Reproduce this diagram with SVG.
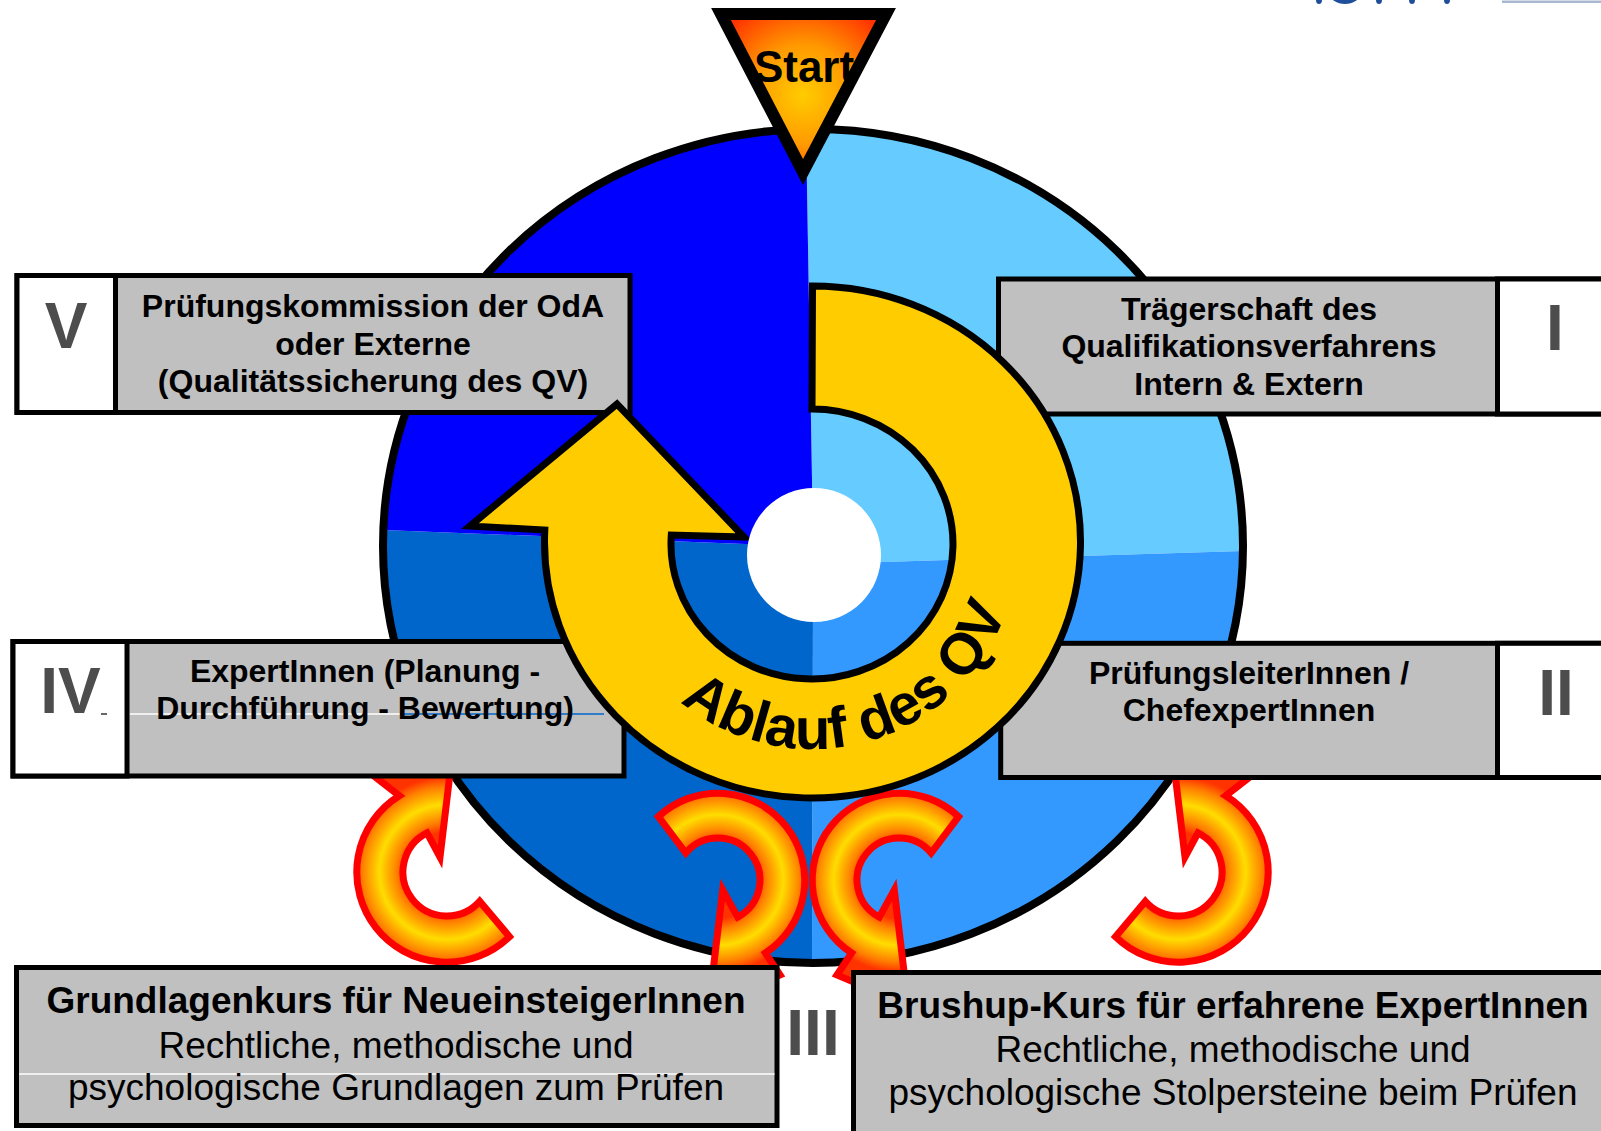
<svg xmlns="http://www.w3.org/2000/svg" width="1601" height="1131" viewBox="0 0 1601 1131">
<style>
.box{fill:#C0C0C0;stroke:#000;stroke-width:5}
.cell{fill:#FFFFFF;stroke:#000;stroke-width:5}
.t{font-family:"Liberation Sans",Arial,sans-serif;font-weight:bold;font-size:32px;fill:#000;text-anchor:middle}
.tb{font-family:"Liberation Sans",Arial,sans-serif;font-weight:bold;font-size:37px;fill:#000;text-anchor:middle}
.tr{font-family:"Liberation Sans",Arial,sans-serif;font-size:37px;fill:#000;text-anchor:middle}
.num{font-family:"Liberation Sans",Arial,sans-serif;font-weight:bold;font-size:64px;fill:#4D4D4D;text-anchor:middle}
.arr{stroke:#FF0000;stroke-width:7;stroke-linejoin:miter}
.pieq{stroke:none}
</style>
<defs>
<radialGradient id="gStart" cx="803" cy="95" r="100" gradientUnits="userSpaceOnUse">
<stop offset="0" stop-color="#FFCC00"/><stop offset="0.5" stop-color="#FF9900"/><stop offset="1" stop-color="#FF3300"/>
</radialGradient>
<radialGradient id="gArr">
<stop offset="0.42" stop-color="#FF3300"/><stop offset="0.53" stop-color="#FF8000"/><stop offset="0.71" stop-color="#FFDD00"/><stop offset="0.89" stop-color="#FF8000"/><stop offset="1" stop-color="#FF3300"/>
</radialGradient>
<radialGradient id="gA" href="#gArr" cx="447" cy="872" r="95" gradientUnits="userSpaceOnUse"/>
<radialGradient id="gD" href="#gArr" cx="1178" cy="872" r="95" gradientUnits="userSpaceOnUse"/>
<radialGradient id="gB" href="#gArr" cx="718" cy="880" r="92" gradientUnits="userSpaceOnUse"/>
<radialGradient id="gC" href="#gArr" cx="899" cy="880" r="92" gradientUnits="userSpaceOnUse"/>
</defs>

<g id="logo-fragment">
<ellipse cx="1319" cy="0" rx="3" ry="4" fill="#1F4E9A"/>
<ellipse cx="1345" cy="-6" rx="15" ry="10" fill="#1F4E9A"/>
<ellipse cx="1379" cy="0" rx="3" ry="4" fill="#1F4E9A"/>
<ellipse cx="1412" cy="0" rx="3" ry="4" fill="#1F4E9A"/>
<ellipse cx="1447" cy="0" rx="3" ry="4" fill="#1F4E9A"/>
<rect x="1502" y="0.5" width="99" height="2.5" fill="#A8B8D0"/>
</g>

<g id="pie">
<path class="pieq" fill="#66CCFF" d="M812 552 L812 480 L806 129 A430 417 0 0 1 1243 551 L860 562.7 Z"/>
<path class="pieq" fill="#3399FF" d="M812 552 L860 562.7 L1243 551 A430 417 0 0 1 812 963 L813 600 Z"/>
<path class="pieq" fill="#0066CC" d="M812 552 L813 600 L812 963 A430 417 0 0 1 383 530 L770 545 Z"/>
<path class="pieq" fill="#0000FF" d="M812 552 L770 545 L383 530 A430 417 0 0 1 806 129 L812 480 Z"/>
<ellipse cx="813" cy="546" rx="430" ry="417" fill="none" stroke="#000" stroke-width="8"/>
</g>

<g id="connectors">
<path id="arrow-left" class="arr" fill="url(#gA)" d="M509.5 936.7 A90 90 0 1 1 399.3 795.7 L365 769 L454 740 L440 857 L427 832.8 A44 44 0 1 0 479.7 901.4 Z"/>
<path id="arrow-right" class="arr" fill="url(#gD)" d="M1115.5 936.7 A90 90 0 1 0 1225.7 795.7 L1260 769 L1171 740 L1185 857 L1198 832.8 A44 44 0 1 1 1145.3 901.4 Z"/>
<path id="arrow-mid-left" class="arr" fill="url(#gB)" d="M658.4 816.6 A87 87 0 1 1 765.4 953 L780 975 L709 1005 L722.7 890 L737.7 917.1 A42 42 0 1 0 685.8 853 Z"/>
<path id="arrow-mid-right" class="arr" fill="url(#gC)" d="M958.6 816.6 A87 87 0 1 0 851.6 953 L837 975 L908 1005 L894.3 890 L879.3 917.1 A42 42 0 1 1 931.2 853 Z"/>
</g>

<g id="node-V">
<rect class="box" x="17" y="275.5" width="613" height="137"/>
<rect class="cell" x="17" y="275.5" width="98.5" height="137"/>
<text class="num" x="66" y="348">V</text>
<text class="t" x="373" y="317">Prüfungskommission der OdA</text>
<text class="t" x="373" y="354.5">oder Externe</text>
<text class="t" x="373" y="392">(Qualitätssicherung des QV)</text>
</g>

<g id="node-I">
<rect class="box" x="998.5" y="279" width="640" height="135"/>
<rect class="cell" x="1497.5" y="279" width="140" height="135"/>
<text class="num" x="1555" y="350">I</text>
<text class="t" x="1249" y="320">Trägerschaft des</text>
<text class="t" x="1249" y="357">Qualifikationsverfahrens</text>
<text class="t" x="1249" y="395">Intern &amp; Extern</text>
</g>

<g id="node-IV">
<rect class="box" x="13" y="641.5" width="611" height="134.5"/>
<rect class="cell" x="13" y="641.5" width="114" height="134.5"/>
<text class="num" x="70.5" y="713">IV</text>
<line x1="101" y1="714" x2="107" y2="714" stroke="#333" stroke-width="1.5"/>
<line x1="130" y1="714" x2="400" y2="714" stroke="#FFFFFF" stroke-width="1.5"/>
<line x1="400" y1="714" x2="604" y2="714" stroke="#0066CC" stroke-width="1.5"/>
<text class="t" x="365" y="682">ExpertInnen (Planung -</text>
<text class="t" x="365" y="718.5">Durchführung - Bewertung)</text>
</g>

<g id="node-II">
<rect class="box" x="1000.7" y="643.3" width="640" height="134.2"/>
<rect class="cell" x="1497.5" y="643.3" width="140" height="134.2"/>
<text class="num" x="1556" y="715">II</text>
<text class="t" x="1249" y="683.5">PrüfungsleiterInnen /</text>
<text class="t" x="1249" y="721">ChefexpertInnen</text>
</g>

<g id="node-grundlagen">
<rect class="box" x="16.5" y="967.5" width="760.5" height="158"/>
<line x1="19" y1="1074" x2="774.5" y2="1074" stroke="#FFFFFF" stroke-width="1.5"/>
<text class="tb" x="396" y="1013">Grundlagenkurs für NeueinsteigerInnen</text>
<text class="tr" x="396" y="1058">Rechtliche, methodische und</text>
<text class="tr" x="396" y="1100">psychologische Grundlagen zum Prüfen</text>
</g>

<g id="node-III">
<text class="num" x="813" y="1055">III</text>
</g>

<g id="node-brushup">
<rect class="box" x="853.5" y="972.5" width="780" height="180"/>
<text class="tb" x="1233" y="1018">Brushup-Kurs für erfahrene ExpertInnen</text>
<text class="tr" x="1233" y="1062">Rechtliche, methodische und</text>
<text class="tr" x="1233" y="1105">psychologische Stolpersteine beim Prüfen</text>
</g>

<g id="cycle-arrow">
<path fill="#FFCC00" stroke="#000" stroke-width="7" stroke-linejoin="miter" d="M812.5 286 A268 256 0 1 1 544.8 530 L470 526 L617 404 L744 537 L671.3 535 A141 135 0 1 0 812 409 Z"/>
<path id="textArc" fill="none" d="M606 543 A206 206 0 0 0 1018 543"/>
<text font-family="Liberation Sans, Arial, sans-serif" font-weight="bold" font-size="58" fill="#000" text-anchor="middle"><textPath href="#textArc" startOffset="379">Ablauf des QV</textPath></text>
</g>

<g id="center">
<circle cx="814" cy="555" r="67" fill="#FFFFFF"/>
</g>

<g id="node-start">
<polygon points="721,14 886,14 803,172" fill="url(#gStart)" stroke="#000" stroke-width="12" stroke-linejoin="miter"/>
<text x="804" y="82" font-family="Liberation Sans, Arial, sans-serif" font-weight="bold" font-size="44" fill="#000" text-anchor="middle">Start</text>
</g>
</svg>
